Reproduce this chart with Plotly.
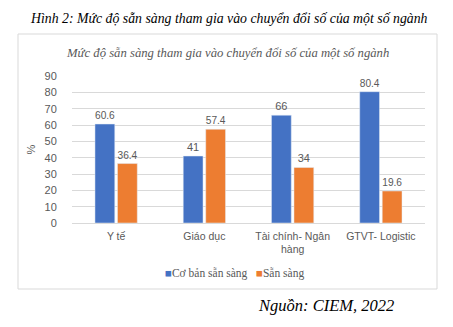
import plotly.graph_objects as go

categories = ["Y tế", "Giáo dục", "Tài chính- Ngân<br>hàng", "GTVT- Logistic"]
co_ban = [60.6, 41, 66, 80.4]
san_sang = [36.4, 57.4, 34, 19.6]
tick_vals = [0, 10, 20, 30, 40, 50, 60, 70, 80, 90]
series_names = ["Cơ bản sẵn sàng", "Sẵn sàng"]
colors = ["#4472c4", "#ed7d31"]

grey = "#595959"
fig = go.Figure()
for name, vals, col in zip(series_names, [co_ban, san_sang], colors):
    fig.add_trace(go.Bar(name=name, x=categories, y=vals,
                         marker=dict(color=col), text=[f"{v:g}" for v in vals],
                         textposition="outside", cliponaxis=False, showlegend=False,
                         textfont=dict(size=11, color=grey, family="Liberation Sans")))

legend_text = "   ".join(
    f"<span style='color:{c}'>■</span><span style='color:{grey}'>{n}</span>"
    for n, c in zip(series_names, colors))

fig.update_layout(
    width=453, height=327,
    margin=dict(l=72, r=28, t=76, b=104),
    paper_bgcolor="white", plot_bgcolor="white",
    barmode="group", bargap=0.49, bargroupgap=0.12,
    font=dict(family="Liberation Sans", size=11, color=grey),
    showlegend=False,
    xaxis=dict(showline=True, linecolor="#d9d9d9", linewidth=1,
               ticks="outside", ticklen=3, tickcolor="rgba(0,0,0,0)",
               tickfont=dict(size=10.5, color=grey)),
    yaxis=dict(range=[0, 90], tickvals=tick_vals, showgrid=True, gridcolor="#d9d9d9",
               zeroline=False, ticks="outside", ticklen=12, tickcolor="rgba(0,0,0,0)",
               tickfont=dict(size=11, color=grey),
               title=dict(text="%", font=dict(size=11, color=grey), standoff=6)),
    shapes=[dict(type="rect", xref="paper", yref="paper",
                 x0=-54/353, x1=(437-72)/353, y0=-(289-223)/147, y1=(223-34)/147,
                 line=dict(color="#d9d9d9", width=1), fillcolor="rgba(0,0,0,0)", layer="below")],
    annotations=[
        dict(text="<i>Hình 2: Mức độ sẵn sàng tham gia vào chuyển đổi số của một số ngành</i>",
             xref="paper", yref="paper", x=(229-72)/353, y=(223-18)/147,
             showarrow=False, xanchor="center", yanchor="middle",
             font=dict(family="Liberation Serif", size=13.8, color="black")),
        dict(text="<i>Mức độ sẵn sàng tham gia vào chuyển đổi số của một số ngành</i>",
             xref="paper", yref="paper", x=(227-72)/353, y=(223-53)/147,
             showarrow=False, xanchor="center", yanchor="middle",
             font=dict(family="Liberation Serif", size=12.7, color=grey)),
        dict(text=legend_text,
             xref="paper", yref="paper", x=(234-72)/353, y=(223-273)/147,
             showarrow=False, xanchor="center", yanchor="middle",
             font=dict(family="Liberation Serif", size=11.5, color=grey)),
        dict(text="<i>Nguồn: CIEM, 2022</i>",
             xref="paper", yref="paper", x=(396-72)/353, y=(223-305)/147,
             showarrow=False, xanchor="right", yanchor="middle",
             font=dict(family="Liberation Serif", size=16.5, color="black")),
    ],
)
fig.write_html("out.html")
